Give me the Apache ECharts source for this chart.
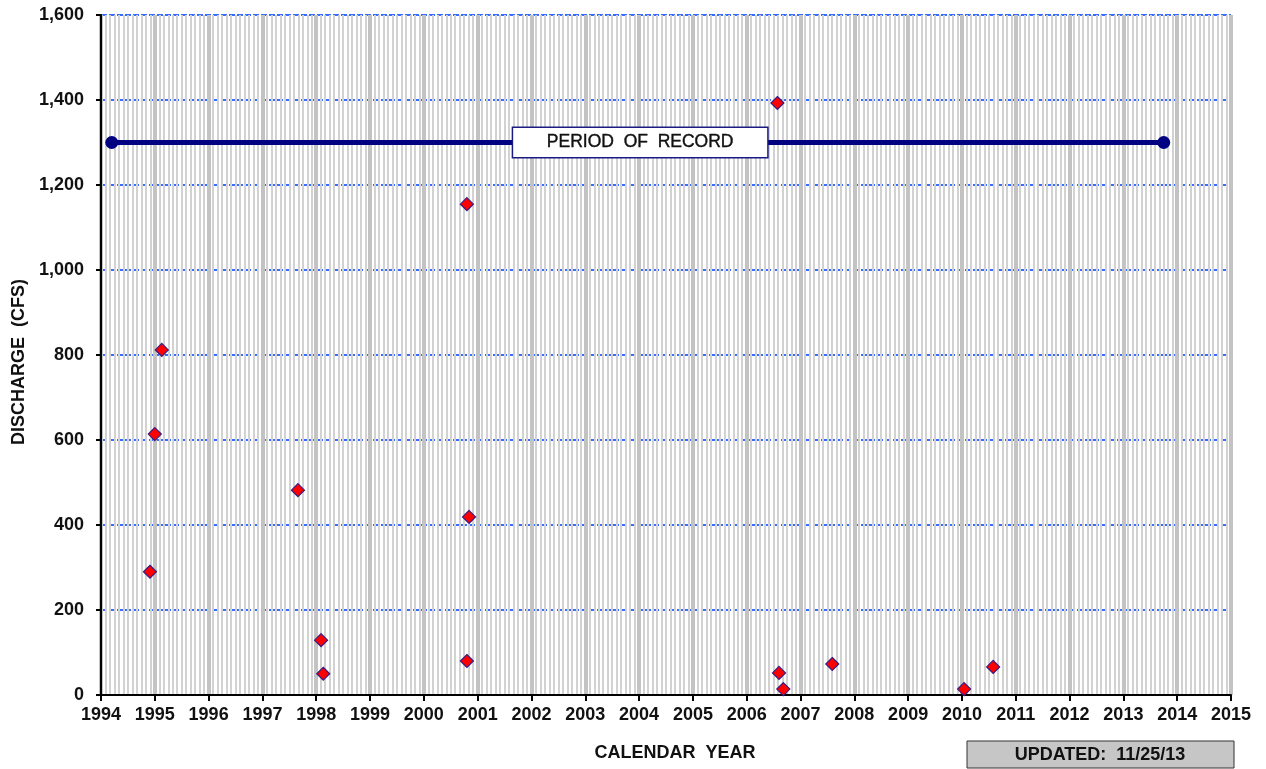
<!DOCTYPE html>
<html>
<head>
<meta charset="utf-8">
<script src="https://cdn.jsdelivr.net/npm/echarts@6/dist/echarts.min.js"></script>
<style>html,body{margin:0;padding:0;background:#fff}#c{width:1266px;height:769px}</style>
</head>
<body>
<div id="c"></div>
<script>
// Measurement dates (decimal years) and discharge (cfs)
const sampleYears = [1994.91, 1995.0, 1995.13, 1997.66, 1998.09, 1998.13, 2000.80, 2000.84, 2000.80, 2006.57, 2006.60, 2006.68, 2007.59, 2010.04, 2010.58];
const sampleDischarge = [290, 614, 812, 482, 129, 50, 1155, 419, 80, 1393, 52, 14, 73, 14, 66];
// Period of record bar
const periodYears = [1994.2, 2013.75];
const periodLevel = 1300;
const periodLabelYear = 2004.02;
const periodLabelText = 'PERIOD  OF  RECORD';
const xMin = 1994, xMax = 2015;
const yMin = 0, yMax = 1600, yStep = 200;
const xTitle = 'CALENDAR  YEAR';
const yTitle = 'DISCHARGE  (CFS)';
const updatedText = 'UPDATED:  11/25/13';

const chart = echarts.init(document.getElementById('c'));
const font = 'Arial, "Liberation Sans", sans-serif';
chart.setOption({
  animation: false,
  backgroundColor: '#ffffff',
  grid: {left: 101, right: 35, top: 15, bottom: 74, containLabel: false},
  xAxis: {
    type: 'value', min: xMin, max: xMax, interval: 1,
    axisLine: {show: true, onZero: false, lineStyle: {color: '#000', width: 2}},
    axisTick: {show: true, length: 6, lineStyle: {color: '#000', width: 2}},
    axisLabel: {margin: 11, color: '#111', fontFamily: font, fontWeight: 'bold', fontSize: 18, formatter: v => String(v)},
    splitLine: {show: true, lineStyle: {color: '#c3c3c3', width: 4}},
    minorTick: {show: false, splitNumber: 12},
    minorSplitLine: {show: true, lineStyle: {color: '#d2d2d2', width: 2}}
  },
  yAxis: {
    type: 'value', min: yMin, max: yMax, interval: yStep,
    name: yTitle, nameLocation: 'middle', nameGap: 70, nameRotate: 90,
    nameTextStyle: {color: '#111', fontFamily: font, fontWeight: 'bold', fontSize: 18, padding: [0, 14, 0, 0]},
    axisLine: {show: true, lineStyle: {color: '#000', width: 2}},
    axisTick: {show: true, length: 5, lineStyle: {color: '#000', width: 2}},
    axisLabel: {margin: 17, color: '#111', fontFamily: font, fontWeight: 'bold', fontSize: 18,
      formatter: v => v.toLocaleString('en-US')},
    splitLine: {show: true, lineStyle: {color: '#3a6cff', width: 2, type: [6, 2]}}
  },
  series: [
    {
      type: 'line', z: 3,
      data: periodYears.map(y => [y, periodLevel]),
      symbol: 'circle', symbolSize: 13,
      itemStyle: {color: '#000080'},
      lineStyle: {color: '#000080', width: 5}
    },
    {
      type: 'scatter', z: 4,
      data: [[periodLabelYear, periodLevel]],
      symbol: 'rect', symbolSize: 1,
      itemStyle: {color: '#ffffff', opacity: 1},
      label: {
        show: true, position: 'inside', formatter: periodLabelText,
        backgroundColor: '#fff', borderColor: '#1a1a80', borderWidth: 1.5,
        width: 254, height: 29, lineHeight: 29, align: 'center', verticalAlign: 'middle',
        color: '#111', fontFamily: font, fontWeight: 'normal', fontSize: 17.5,
        textBorderColor: '#111', textBorderWidth: 0.4
      }
    },
    {
      type: 'scatter', z: 5,
      data: sampleYears.map((y, i) => [y, sampleDischarge[i]]),
      symbol: 'diamond', symbolSize: 13,
      itemStyle: {color: '#ff0000', borderColor: '#3a1a80', borderWidth: 1.2, opacity: 1}
    }
  ],
  graphic: [
    {type: 'text', x: 675, y: 753, style: {text: xTitle, fill: '#111', font: 'bold 18px ' + font, textAlign: 'center', textVerticalAlign: 'middle'}},
    {type: 'rect', shape: {x: 967, y: 741, width: 267, height: 27}, style: {fill: '#c6c6c6', stroke: '#333', lineWidth: 1}},
    {type: 'text', x: 1100, y: 755, style: {text: updatedText, fill: '#111', font: 'bold 18px ' + font, textAlign: 'center', textVerticalAlign: 'middle'}}
  ]
});
</script>
</body>
</html>
